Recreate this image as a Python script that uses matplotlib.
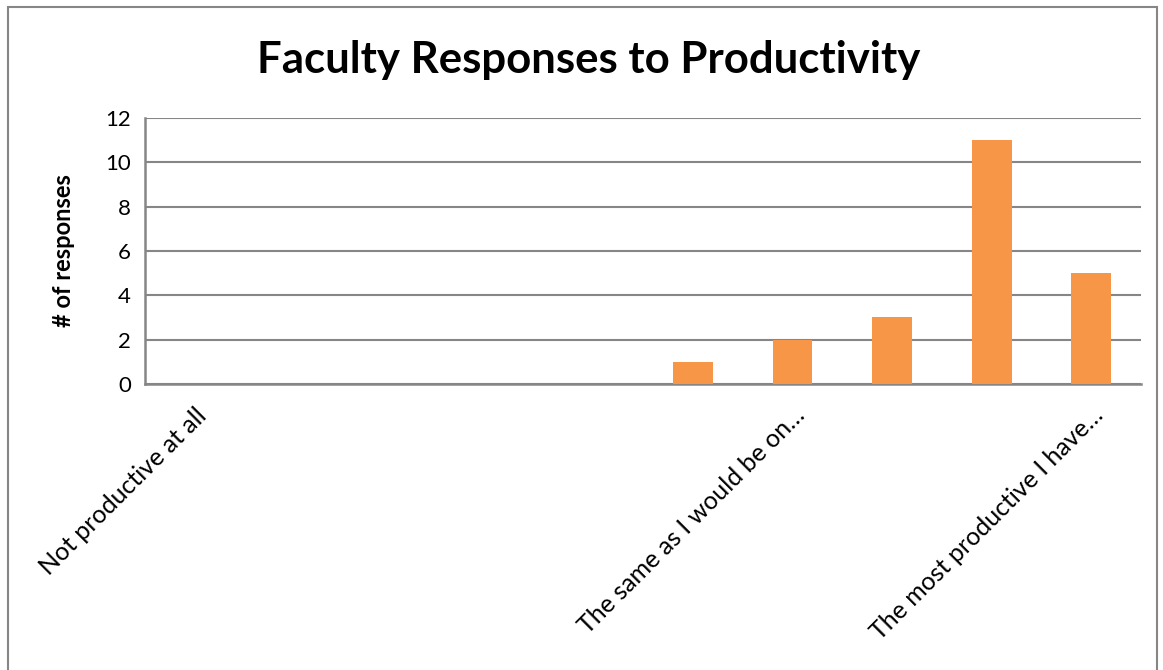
import matplotlib

matplotlib.use("Agg")
import matplotlib.pyplot as plt
from matplotlib.patches import Rectangle

# Category labels (Excel only displayed three of the ten)
categories = [
    "Not productive at all", "", "", "", "", "",
    "The same as I would be on\u2026", "", "",
    "The most productive I have\u2026",
]
responses = [0, 0, 0, 0, 0, 1, 2, 3, 11, 5]
y_ticks = [0, 2, 4, 6, 8, 10, 12]

plt.rcParams["font.family"] = ["Lato", "DejaVu Sans"]

fig = plt.figure(figsize=(11.63, 6.70), dpi=100)
ax = fig.add_axes([0.1247, 0.4269, 0.8565, 0.397])

x = list(range(len(categories)))
ax.bar(x, responses, width=0.4, color="#F79646", zorder=3)

ax.set_xlim(-0.5, len(categories) - 0.5)
ax.set_ylim(0, 12)
ax.set_yticks(y_ticks)
ax.set_yticklabels([str(t) for t in y_ticks], fontsize=16)
ax.set_xticks(x)
ax.set_xticklabels(categories, rotation=45, ha="right", rotation_mode="anchor",
                   fontsize=18)
ax.tick_params(axis="both", length=0, pad=10)
ax.tick_params(axis="x", pad=14)

ax.grid(axis="y", color="#868686", linewidth=1.5, zorder=0)
for side in ("top", "right"):
    ax.spines[side].set_visible(False)
for side in ("left", "bottom"):
    ax.spines[side].set_color("#868686")
    ax.spines[side].set_linewidth(1.8)

ax.set_ylabel("# of responses", fontsize=17, fontweight="bold", labelpad=22)
fig.text(0.506, 0.91, "Faculty Responses to Productivity", ha="center",
         va="center", fontsize=31.5, fontweight="bold")

# outer chart border
fig.patches.append(Rectangle((0.007, -0.01), 0.988, 1.0, transform=fig.transFigure,
                             fill=False, edgecolor="#868686", linewidth=1.5))

fig.savefig("out.png", dpi=100)
